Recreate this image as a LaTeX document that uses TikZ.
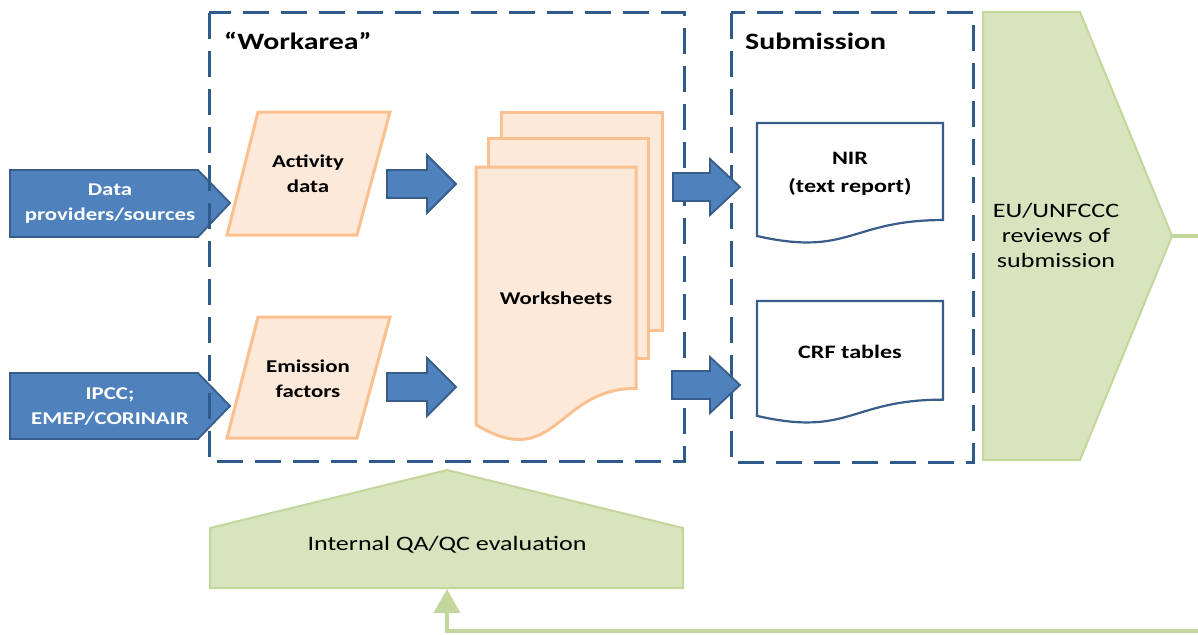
\documentclass[tikz,border=0pt]{standalone}
\usepackage{fontspec}
\setmainfont{Carlito}[FakeStretch=1.27]
\usetikzlibrary{arrows.meta}
\definecolor{bfill}{HTML}{4F81BD}
\definecolor{bdraw}{HTML}{385D8A}
\definecolor{dashc}{HTML}{2F5B8C}
\definecolor{ofill}{HTML}{FDE9D9}
\definecolor{odraw}{HTML}{FAC090}
\definecolor{gfill}{HTML}{D7E4BD}
\definecolor{gdraw}{HTML}{C3D69B}
\newcommand\docshape[4]{(#1,#2) -- ({#1+#3},#2) -- ({#1+#3},{#2+0.802*#4})
  .. controls ({#1+0.5*#3},{#2+0.802*#4}) and ({#1+0.5*#3},{#2+1.1075*#4}) .. (#1,{#2+0.934*#4}) -- cycle}
\begin{document}
\begin{tikzpicture}[x=1pt,y=-1pt,
  dashbox/.style={draw=dashc, line width=3pt, dash pattern=on 26pt off 12pt},
  bluesh/.style={fill=bfill, draw=bdraw, line width=1.8pt, line join=miter},
  orangesh/.style={fill=ofill, draw=odraw, line width=3pt, line join=miter},
  docsh/.style={fill=white, draw=bdraw, line width=2.2pt},
  greensh/.style={fill=gfill, draw=gdraw, line width=2pt, line join=miter},
  lbl/.style={align=center, inner sep=0pt, font=\fontsize{20.5}{25}\selectfont},
  blbl/.style={align=center, inner sep=0pt, font=\bfseries\fontsize{18}{25}\selectfont},
  wlbl/.style={blbl, text=white},
  title/.style={anchor=west, inner sep=0pt, font=\bfseries\fontsize{23.5}{28}\selectfont},
  feedback/.style={draw=gdraw, line width=4pt}]
\useasboundingbox (0,0) rectangle (1198,634);

% input arrows
\draw[bluesh] (10,170) -- (198,170) -- (230,203) -- (198,237) -- (10,237) -- cycle;
\draw[bluesh] (10,373) -- (198,373) -- (230,406) -- (198,439) -- (10,439) -- cycle;
\node[wlbl] (dp) at (110,204) {Data\\providers/sources};
\node[wlbl] (ipcc) at (110,407) {IPCC;\\EMEP/CORINAIR};

% dashed areas
\draw[dashbox] (209,13) rectangle (684,461);
\draw[dashbox] (731,13) rectangle (973,462);
\node[title] (wa) at (224,41) {“Workarea”};
\node[title] (sub) at (745,41) {Submission};

% parallelograms
\draw[orangesh] (258,112) -- (390,112) -- (357,235) -- (227,235) -- cycle;
\draw[orangesh] (258,317) -- (390,317) -- (357,438) -- (227,438) -- cycle;
\node[blbl] (ad) at (308,174) {Activity\\data};
\node[blbl] (ef) at (308,379) {Emission\\factors};

% block arrows to worksheets
\draw[bluesh] (387,170) -- (427,170) -- (427,155) -- (456,184) -- (427,213) -- (427,198) -- (387,198) -- cycle;
\draw[bluesh] (387,373) -- (427,373) -- (427,358) -- (456,387) -- (427,416) -- (427,401) -- (387,401) -- cycle;

% worksheets
\draw[orangesh] (501,112) rectangle (662,330);
\draw[orangesh] (488,138) rectangle (648,358);
\draw[orangesh] \docshape{476}{167}{160}{276};
\node[blbl] (ws) at (556,298) {Worksheets};

% block arrows to submission
\draw[bluesh] (673,173) -- (710,173) -- (710,159) -- (740,187) -- (710,215) -- (710,201) -- (673,201) -- cycle;
\draw[bluesh] (672,371) -- (710,371) -- (710,357) -- (740,385) -- (710,413) -- (710,399) -- (672,399) -- cycle;

% documents
\draw[docsh] \docshape{757}{123}{186}{121};
\draw[docsh] \docshape{757}{301}{186}{123};
\node[blbl, font=\bfseries\fontsize{19}{28}\selectfont] (nir) at (850,174) {NIR\\(text report)};
\node[blbl, font=\bfseries\fontsize{19}{28}\selectfont] (crf) at (850,352) {CRF tables};

% EU/UNFCCC review
\draw[greensh] (983,12) -- (1080,12) -- (1172,236) -- (1080,460) -- (983,460) -- cycle;
\node[lbl] (eu) at (1056,235) {EU/UNFCCC\\reviews of\\submission};

% internal QA/QC
\draw[greensh] (210,588) -- (210,528) -- (447,470) -- (683,528) -- (683,588) -- cycle;
\node[lbl] (qa) at (447,545) {Internal QA/QC evaluation};

% feedback connector
\coordinate (euTip) at (1172,236);
\coordinate (outR) at (1199,236);
\coordinate (inR) at (1199,631);
\coordinate (qaBot) at (447,589);
\draw[feedback] (euTip) -- (outR);
\draw[feedback, -{Triangle[width=26pt,length=24pt]}] (inR) -| (qaBot);
\end{tikzpicture}
\end{document}
